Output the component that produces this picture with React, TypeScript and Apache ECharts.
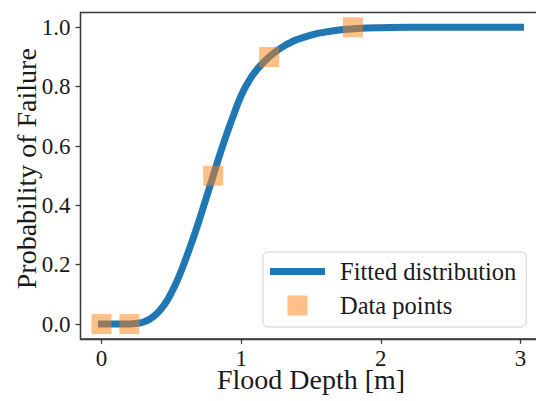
import React, { useEffect, useRef } from "react";
import * as echarts from "echarts";

// Fitted curve (flood depth [m] -> probability)
const CURVE_X = [0, 0.1, 0.2, 0.25, 0.3, 0.35, 0.4, 0.45, 0.5, 0.55, 0.6, 0.65, 0.7, 0.75, 0.8, 0.85, 0.9, 0.95, 1.0, 1.05, 1.1, 1.15, 1.2, 1.25, 1.3, 1.35, 1.4, 1.5, 1.6, 1.7, 1.8, 1.9, 2.0, 2.2, 2.5, 3.0];
const CURVE_Y = [0, 0, 0.0005, 0.002, 0.007, 0.018, 0.037, 0.065, 0.105, 0.155, 0.215, 0.28, 0.35, 0.425, 0.5, 0.575, 0.645, 0.71, 0.77, 0.815, 0.85, 0.877, 0.9, 0.919, 0.935, 0.948, 0.959, 0.974, 0.984, 0.991, 0.995, 0.998, 0.999, 1.0, 1.0, 1.0];

// Observed data points
const DATA_X = [0, 0.2, 0.8, 1.2, 1.8];
const DATA_Y = [0, 0, 0.5, 0.9, 1.0];

const X_TICKS = [0, 1, 2, 3];
const Y_TICKS = [0, 0.2, 0.4, 0.6, 0.8, 1.0];

const SERIES_NAMES = ["Fitted distribution", "Data points"];

const FONT = "'Liberation Serif', 'Times New Roman', serif";
const AXIS_COLOR = "#3a3a3a";

export default function App() {
  const ref = useRef<HTMLDivElement>(null);

  useEffect(() => {
    if (!ref.current) return;
    const chart = echarts.init(ref.current, null, { renderer: "svg" });
    const curve = CURVE_X.map((x, i) => [x, CURVE_Y[i]]);
    const pts = DATA_X.map((x, i) => [x, DATA_Y[i]]);

    chart.setOption({
      animation: false,
      backgroundColor: "#ffffff",
      textStyle: { fontFamily: FONT },
      grid: {
        left: 80.5,
        top: 12.5,
        width: 461,
        height: 326.4,
        containLabel: false,
        outerBoundsMode: "none",
        show: true,
        borderColor: AXIS_COLOR,
        borderWidth: 1.3,
        backgroundColor: "transparent",
      },
      legend: {
        orient: "vertical",
        left: 263,
        top: 252,
        padding: [7, 10, 9, 7],
        itemGap: 9,
        itemWidth: 55,
        itemHeight: 20,
        backgroundColor: "rgba(255,255,255,0.8)",
        borderColor: "#d0d0d0",
        borderWidth: 1,
        borderRadius: 5,
        textStyle: { fontFamily: FONT, fontSize: 24.5, color: "#1a1a1a", padding: [0, 0, 0, 10] },
        data: [
          { name: SERIES_NAMES[0], icon: "path://M0,0H55V7H0Z" },
          { name: SERIES_NAMES[1], icon: "path://M0,0H20V20H0Z" },
        ],
      },
      xAxis: {
        type: "value",
        min: -0.15,
        max: 3.15,
        name: "Flood Depth [m]",
        nameLocation: "middle",
        nameGap: 27,
        nameMoveOverlap: false,
        nameTextStyle: { fontFamily: FONT, fontSize: 28, color: "#1a1a1a" },
        splitLine: { show: false },
        axisLine: { show: true, onZero: false, lineStyle: { color: AXIS_COLOR, width: 1.3 } },
        axisTick: { show: true, length: 5, customValues: X_TICKS, lineStyle: { color: AXIS_COLOR, width: 1.3 } },
        axisLabel: {
          customValues: X_TICKS,
          margin: 8,
          fontFamily: FONT,
          fontSize: 23,
          color: "#1a1a1a",
          formatter: (v: number) => String(Math.round(v)),
        },
      },
      yAxis: {
        type: "value",
        min: -0.05,
        max: 1.05,
        name: "Probability of Failure",
        nameLocation: "middle",
        nameGap: 40,
        nameMoveOverlap: false,
        nameTextStyle: { fontFamily: FONT, fontSize: 28, color: "#1a1a1a", padding: [0, 0, 0, 14] },
        splitLine: { show: false },
        axisLine: { show: true, onZero: false, lineStyle: { color: AXIS_COLOR, width: 1.3 } },
        axisTick: { show: true, length: 5, customValues: Y_TICKS, lineStyle: { color: AXIS_COLOR, width: 1.3 } },
        axisLabel: {
          customValues: Y_TICKS,
          margin: 10,
          fontFamily: FONT,
          fontSize: 23,
          color: "#1a1a1a",
          formatter: (v: number) => v.toFixed(1),
        },
      },
      series: [
        {
          name: SERIES_NAMES[0],
          type: "line",
          data: curve,
          smooth: true,
          showSymbol: false,
          symbol: "none",
          z: 2,
          lineStyle: { color: "#1f77b4", width: 7, cap: "square" },
          itemStyle: { color: "#1f77b4" },
        },
        {
          name: SERIES_NAMES[1],
          type: "scatter",
          data: pts,
          symbol: "rect",
          symbolSize: 20,
          z: 3,
          itemStyle: { color: "#ff7f0e", opacity: 0.5 },
        },
      ],
    });
    return () => chart.dispose();
  }, []);

  return (
    <div style={{ position: "fixed", left: 0, top: 0, width: 536, height: 401, overflow: "hidden", background: "#fff" }}>
      <div ref={ref} style={{ width: 548, height: 401 }} />
    </div>
  );
}
